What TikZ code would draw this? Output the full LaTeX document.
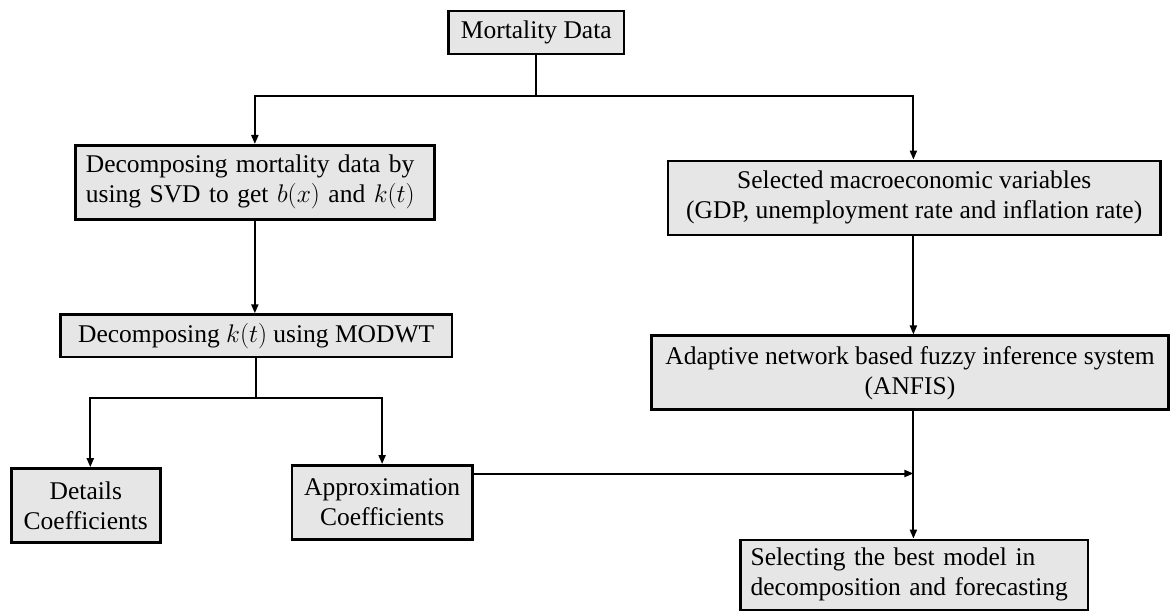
\RequirePackage{fix-cm}
\documentclass[tikz,border=0pt]{standalone}
\usepackage{fontspec}
\setmainfont{Liberation Serif}
\usetikzlibrary{arrows.meta}
\definecolor{boxgray}{RGB}{230,230,230}
\tikzset{
  box/.style={draw=black, line width=2.6pt, fill=boxgray, inner sep=0pt,
    font=\fontsize{25.5}{30}\selectfont},
  conn/.style={line width=2pt},
  arr/.style={conn, -{Triangle[length=9pt,width=7pt]}},
}
\begin{document}
\begin{tikzpicture}[x=1pt,y=-1pt]
\useasboundingbox (0,0) rectangle (1170,612);
\node[box, minimum width=175.5pt, minimum height=43pt, align=center] (M) at (536.25,32.5) {Mortality Data};
\node[box, minimum width=359pt, minimum height=74pt, text width=338pt, align=left] (A) at (254.85,182.3)
  {Decomposing mortality data by\\using SVD to get $b(x)$ and $k(t)$};
\node[box, minimum width=492.4pt, minimum height=74pt, align=center] (B) at (914.2,197.9)
  {Selected macroeconomic variables\\(GDP, unemployment rate and inflation rate)};
\node[box, minimum width=391.6pt, minimum height=42.4pt, align=center] (C) at (256.2,335.8)
  {Decomposing $k(t)$ using MODWT};
\node[box, minimum width=517pt, minimum height=74pt, align=center] (D) at (910,372.75)
  {Adaptive network based fuzzy inference system\\(ANFIS)};
\node[box, minimum width=149.2pt, minimum height=74pt, align=center] (E) at (85.8,505.45)
  {Details\\Coefficients};
\node[box, minimum width=180.6pt, minimum height=74pt, align=center] (F) at (382.1,502.35)
  {Approximation\\Coefficients};
\node[box, minimum width=347.7pt, minimum height=70pt, text width=327pt, align=left] (G) at (914.15,574.9)
  {Selecting the best model in\\decomposition and forecasting};
\coordinate (jT) at (536.25,95.6);
\coordinate (xr) at (913.4,0);
\coordinate (jC) at (256.7,398);
\coordinate (xe) at (90.3,0);
\coordinate (ya) at (0,473.5);
\draw[arr] (M.south) -- (M.south |- jT) -| (A.north);
\draw[arr] (M.south |- jT) -| (xr |- B.north);
\draw[arr] (A.south) -- (A.south |- C.north);
\draw[arr] (xr |- B.south) -- (xr |- D.north);
\draw[conn] (C.south) -- (C.south |- jC);
\draw[arr] (C.south |- jC) -| (xe |- E.north);
\draw[arr] (C.south |- jC) -| (F.north);
\draw[arr] (F.east |- ya) -- (xr |- ya);
\draw[arr] (xr |- D.south) -- (xr |- G.north);
\end{tikzpicture}
\end{document}
